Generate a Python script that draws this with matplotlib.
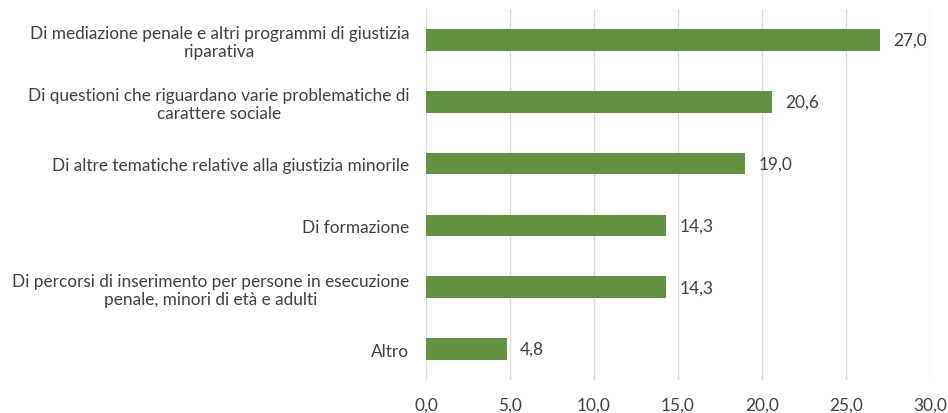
import matplotlib
matplotlib.use("Agg")
import matplotlib.pyplot as plt
from matplotlib.ticker import FuncFormatter

categories = [
    "Di mediazione penale e altri programmi di giustizia\nriparativa",
    "Di questioni che riguardano varie problematiche di\ncarattere sociale",
    "Di altre tematiche relative alla giustizia minorile",
    "Di formazione",
    "Di percorsi di inserimento per persone in esecuzione\npenale, minori di età e adulti",
    "Altro",
]
values = [27.0, 20.6, 19.0, 14.3, 14.3, 4.8]
xticks = [0, 5, 10, 15, 20, 25, 30]

plt.rcParams['font.family'] = ['Lato', 'DejaVu Sans']
text_color = '#404040'
fs = 12.4

fig = plt.figure(figsize=(9.48, 4.14), dpi=100)
ax = fig.add_axes([426/948, 1-381/414, (930-426)/948, (381-10)/414])

y = list(range(len(categories)))
ax.barh(y, values, height=0.35, color='#639142', zorder=3)
ax.set_ylim(len(categories)-0.5, -0.5)
ax.set_xlim(0, 30)
ax.set_xticks(xticks)
ax.xaxis.set_major_formatter(FuncFormatter(lambda v, p: f"{v:.1f}".replace('.', ',')))
ax.set_yticks(y)
ax.set_yticklabels(categories, ha='right', multialignment='center', linespacing=1.15)
ax.tick_params(axis='both', length=0, labelsize=fs, colors=text_color)
ax.tick_params(axis='y', pad=12)
ax.tick_params(axis='x', pad=12)
ax.grid(axis='x', color='#d9d9d9', linewidth=1, zorder=0)
for s in ax.spines.values():
    s.set_visible(False)

for yi, v in zip(y, values):
    ax.text(v + 0.8, yi, f"{v:.1f}".replace('.', ','), va='center', ha='left',
            fontsize=fs, color=text_color)

fig.savefig("out.png", dpi=100)
